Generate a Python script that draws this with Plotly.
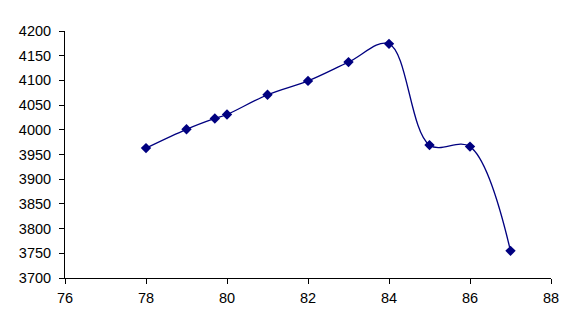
import plotly.graph_objects as go

x_vals = [78, 79, 79.7, 80, 81, 82, 83, 84, 85, 86, 87]
y_vals = [3963, 4001, 4023, 4031, 4071, 4099, 4137, 4174, 3969, 3966, 3755]

fig = go.Figure()
fig.add_trace(go.Scatter(
    x=x_vals, y=y_vals, mode="lines+markers",
    line=dict(color="#000080", width=1.3, shape="spline", smoothing=1),
    marker=dict(symbol="diamond", size=8, color="#000080"),
    showlegend=False,
))

axis_common = dict(
    showgrid=False, zeroline=False, showline=True, linecolor="black", linewidth=1,
    ticks="outside", ticklen=5, tickcolor="black", tickwidth=1,
    tickfont=dict(family="Liberation Sans, Arial, sans-serif", size=14.5, color="black"),
)
fig.update_layout(
    width=579, height=332,
    margin=dict(l=65, r=28, t=31, b=54),
    paper_bgcolor="white", plot_bgcolor="white",
    xaxis=dict(range=[76, 88], dtick=2, tick0=76, ticklabelstandoff=2, **axis_common),
    yaxis=dict(range=[3700, 4200], dtick=50, tick0=3700, ticklabelstandoff=5, **axis_common),
)
fig.write_html("out.html")
